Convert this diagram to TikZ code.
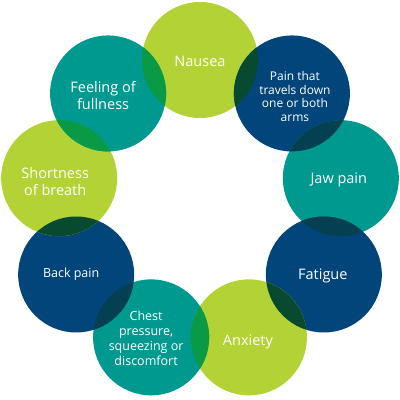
\documentclass[tikz,border=0pt]{standalone}
\usepackage{fontspec}
\setmainfont{Open Sans}
\definecolor{lime}{HTML}{B2D235}
\definecolor{teal}{HTML}{00998F}
\definecolor{navy}{HTML}{01457B}
\definecolor{lt}{HTML}{0A9A45}
\definecolor{ln}{HTML}{074A30}
\definecolor{nt}{HTML}{053F52}
\tikzset{
  bub/.style={circle, minimum size=116pt, inner sep=0pt, draw=none, fill=#1},
  lbl/.style={text=white, align=center, inner sep=0pt},
  big/.style={lbl, font=\fontsize{14.5}{17}\selectfont},
  mid/.style={lbl, font=\fontsize{12.5}{15}\selectfont},
  sml/.style={lbl, font=\fontsize{12}{13.5}\selectfont},
}
\newcommand{\lens}[3]{\begin{scope}\clip (#1.center) circle (58pt); \fill[#3] (#2.center) circle (58pt);\end{scope}}
\begin{document}
\begin{tikzpicture}
\useasboundingbox (0,0) rectangle (400pt,400pt);
\begin{scope}[shift={(200pt,197pt)}]
\node[bub=lime] (nausea) at (90:143pt) {};
\node[bub=navy] (pain) at (50:143pt) {};
\node[bub=teal] (jaw) at (10:143pt) {};
\node[bub=navy] (fatigue) at (-30:143pt) {};
\node[bub=lime] (anxiety) at (-70:143pt) {};
\node[bub=teal] (chest) at (-110:143pt) {};
\node[bub=navy] (back) at (-150:143pt) {};
\node[bub=lime] (short) at (170:143pt) {};
\node[bub=teal] (feeling) at (130:143pt) {};
\lens{nausea}{pain}{ln}
\lens{pain}{jaw}{nt}
\lens{jaw}{fatigue}{nt}
\lens{fatigue}{anxiety}{ln}
\lens{anxiety}{chest}{lt}
\lens{chest}{back}{nt}
\lens{back}{short}{ln}
\lens{short}{feeling}{lt}
\lens{feeling}{nausea}{lt}
\end{scope}
\node[big] (tnausea) at ([yshift=-1pt]nausea.center) {Nausea};
\node[sml] (tpain) at ([xshift=3pt,yshift=-3pt]pain.center) {Pain that\\travels down\\one or both\\arms};
\node[big] (tjaw) at ([xshift=-2pt,yshift=-2pt]jaw.center) {Jaw pain};
\node[big] (tfatigue) at ([xshift=-1pt,yshift=-1pt]fatigue.center) {Fatigue};
\node[big] (tanxiety) at ([xshift=-1pt,yshift=-5pt]anxiety.center) {Anxiety};
\node[mid] (tchest) at ([xshift=-5pt,yshift=-1pt]chest.center) {Chest\\pressure,\\squeezing or\\discomfort};
\node[mid] (tback) at ([xshift=-5pt]back.center) {Back pain};
\node[big] (tshort) at ([xshift=-4pt,yshift=-3pt]short.center) {Shortness\\of breath};
\node[big] (tfeeling) at ([xshift=-5pt,yshift=-2pt]feeling.center) {Feeling of\\fullness};
\end{tikzpicture}
\end{document}
